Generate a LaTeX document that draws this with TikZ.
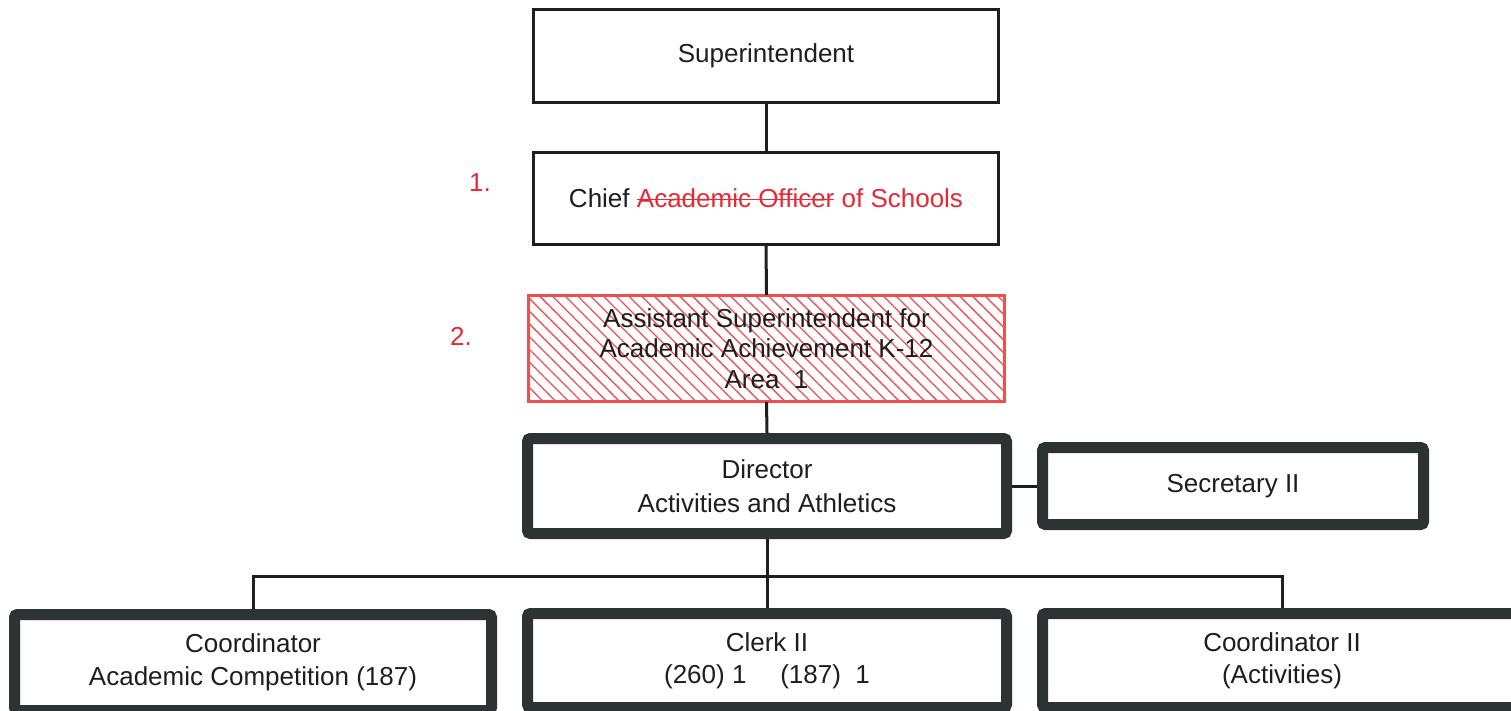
\documentclass[tikz,border=0pt]{standalone}
\usepackage{fontspec}
\setmainfont{Liberation Sans}
\usetikzlibrary{patterns.meta}
\definecolor{markred}{RGB}{232,40,50}
\definecolor{boxred}{RGB}{238,80,80}
\definecolor{framegray}{RGB}{45,50,50}
\definecolor{inkblack}{RGB}{30,30,30}
\newsavebox\strikebox
\newcommand{\strikethru}[1]{\sbox\strikebox{#1}\rlap{\rule[0.3em]{\wd\strikebox}{1.2pt}}\usebox\strikebox}

\begin{document}
\begin{tikzpicture}[x=1pt, y=-1pt,
	every node/.style={font=\fontsize{26}{31}\selectfont, text=inkblack, align=center, inner sep=0pt},
	thinbox/.style={draw=inkblack, line width=3pt, fill=white},
	hatchbox/.style={draw=boxred, line width=3pt, pattern={Lines[angle=-45, distance=9pt, line width=1.3pt]}, pattern color=boxred},
	heavybox/.style={draw=framegray, line width=11pt, rounded corners=3pt, fill=white},
	link/.style={draw=inkblack, line width=3pt},
	redlabel/.style={text=markred}]
	\useasboundingbox (0,0) rectangle (1511,711);
	\fill[white] (0,0) rectangle (1511,711);
	% upper chain
	\node[thinbox, minimum width=465pt, minimum height=93pt] (sup) at (766,56) {Superintendent};
	\node[thinbox, minimum width=465pt, minimum height=92pt] (chief) at (766,198.5) {Chief \textcolor{markred}{\strikethru{Academic Officer} of Schools}};
	\node[hatchbox, minimum width=476pt, minimum height=106pt, font=\fontsize{26}{30.5}\selectfont] (asst) at (766.5,348.5) {Assistant Superintendent for\\Academic Achievement K-12\\Area\ \ 1};
	\node[redlabel] (one) at (480,183) {1.};
	\node[redlabel] (two) at (461,336) {2.};
	% director and staff
	\node[heavybox, minimum width=479pt, minimum height=95pt, font=\fontsize{26}{34}\selectfont] (dir) at (767,486) {Director\\Activities and Athletics};
	\node[heavybox, minimum width=381pt, minimum height=77pt] (sec) at (1233,486) {Secretary II};
	\node[heavybox, minimum width=477pt, minimum height=96pt, font=\fontsize{26}{33}\selectfont] (coord) at (253,662.5) {Coordinator\\Academic Competition (187)};
	\node[heavybox, minimum width=479pt, minimum height=94pt, font=\fontsize{26}{32}\selectfont] (clerk) at (767,660.5) {Clerk II\\(260) 1\hspace{1.3em}(187)\ \ 1};
	\node[heavybox, minimum width=479pt, minimum height=94pt, font=\fontsize{26}{32}\selectfont] (coordtwo) at (1282,660.5) {Coordinator II\\(Activities)};
	% connectors
	\draw[link] (sup.south) -- (chief.north);
	\draw[link] (chief.south) -- (asst.north);
	\draw[link] (asst.south) -- (dir.north);
	\draw[link] (dir.east) -- (sec.west);
	\draw[link] (dir.south) -- (clerk.north);
	\coordinate (bus) at (767,576);
	\draw[link] (coord.north) |- (bus) -| (coordtwo.north);
\end{tikzpicture}
\end{document}
